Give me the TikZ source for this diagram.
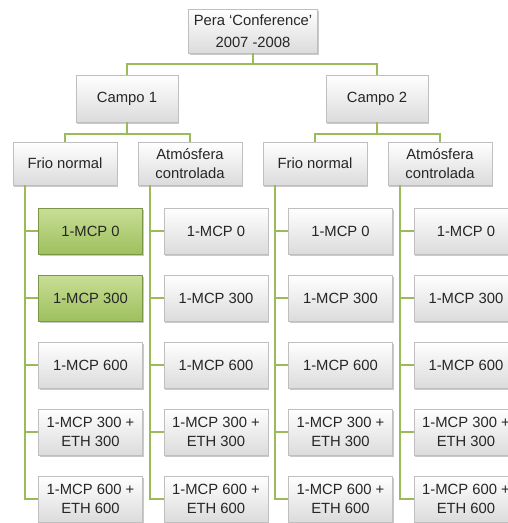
\documentclass[tikz,border=0pt]{standalone}
\usepackage{fontspec}
\setmainfont{Liberation Sans}
\usetikzlibrary{shadows}
\definecolor{olive}{RGB}{155,187,89}
\definecolor{greentop}{RGB}{200,222,150}
\definecolor{greenbot}{RGB}{158,192,94}
\tikzset{
  box/.style={rectangle, draw=black!25, line width=0.4pt, top color=white, bottom color=black!14,
    minimum width=104pt, minimum height=46pt, inner sep=1pt, align=center, text=black!85,
    font=\fontsize{14.8}{18.5}\selectfont,
    drop shadow={shadow xshift=1.2pt, shadow yshift=-1.6pt, opacity=0.35, fill=black!60}},
  midbox/.style={box, minimum height=43pt},
  greenbox/.style={box, draw=olive!80!black, top color=greentop, bottom color=greenbot},
  conn/.style={draw=olive, line width=2.6pt}
}
\begin{document}
\begin{tikzpicture}[x=1pt,y=-1pt]
\useasboundingbox (0,0) rectangle (508,523);
\clip (0,0) rectangle (508,523);
\fill[white] (0,0) rectangle (508,523);
% level 0
\node[box, minimum width=129pt, minimum height=44pt] (top) at (253,31) {Pera ‘Conference’\\[4pt]2007 -2008};
% level 1
\node[box, minimum width=102pt, minimum height=47pt] (c1) at (127,98.5) {Campo 1};
\node[box, minimum width=102pt, minimum height=47pt] (c2) at (377,98.5) {Campo 2};
% level 2
\node[midbox] (f1) at (65,163.5) {Frio normal};
\node[midbox] (a1) at (190,163.5) {Atmósfera\\controlada};
\node[midbox] (f2) at (315,163.5) {Frio normal};
\node[midbox] (a2) at (440,163.5) {Atmósfera\\controlada};
% leaves
\foreach \col/\x in {f1/90.5, a1/216, f2/340.5, a2/466}{
  \node[box] (\col-3) at (\x,365) {1-MCP 600};
  \node[box] (\col-4) at (\x,432) {1-MCP 300 +\\ETH 300};
  \node[box] (\col-5) at (\x,499) {1-MCP 600 +\\ETH 600};
}
\foreach \col/\x in {a1/216, f2/340.5, a2/466}{
  \node[box] (\col-1) at (\x,231) {1-MCP 0};
  \node[box] (\col-2) at (\x,298) {1-MCP 300};
}
\node[greenbox] (f1-1) at (90.5,231) {1-MCP 0};
\node[greenbox] (f1-2) at (90.5,298) {1-MCP 300};
% connectors
\coordinate (j0) at (253,64);
\draw[conn] (top.south) -- (j0);
\draw[conn] (c1.north) |- (j0) -| (c2.north);
\coordinate (j1) at (127,134);
\coordinate (j2) at (377,134);
\draw[conn] (c1.south) -- (j1);
\draw[conn] (f1.north) |- (j1) -| (a1.north);
\draw[conn] (c2.south) -- (j2);
\draw[conn] (f2.north) |- (j2) -| (a2.north);
\foreach \col in {f1,a1,f2,a2}{
  \foreach \k in {1,...,5}{
    \draw[conn] ([xshift=12pt]\col.south west) |- (\col-\k.west);
  }
}
\end{tikzpicture}
\end{document}
